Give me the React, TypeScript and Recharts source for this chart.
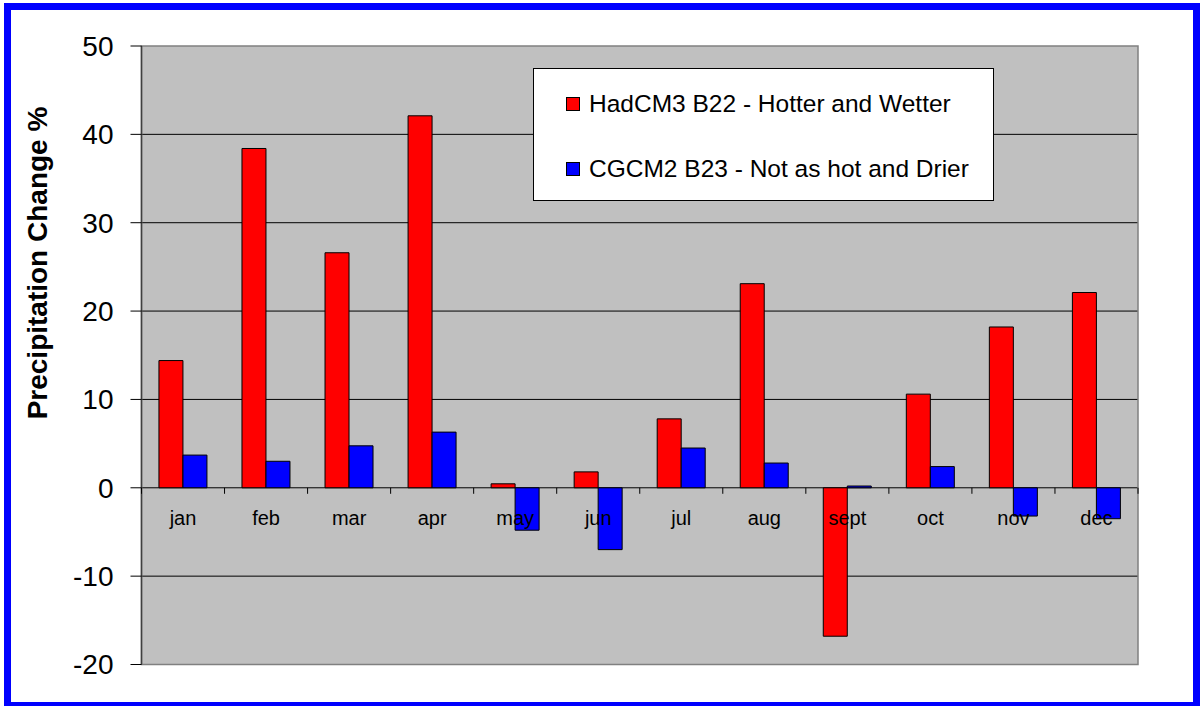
import React from 'react';
import { BarChart, Bar, XAxis, YAxis, CartesianGrid, ReferenceArea, Label } from 'recharts';

const months = ['jan', 'feb', 'mar', 'apr', 'may', 'jun', 'jul', 'aug', 'sept', 'oct', 'nov', 'dec'];
const hadcm3 = [14.4, 38.4, 26.6, 42.1, 0.45, 1.8, 7.8, 23.1, -16.8, 10.6, 18.2, 22.1];
const cgcm2 = [3.7, 3.0, 4.75, 6.3, -4.8, -7.0, 4.5, 2.8, 0.2, 2.4, -3.2, -3.5];
const yTicks = [-20, -10, 0, 10, 20, 30, 40, 50];
const seriesNames = ['HadCM3 B22 - Hotter and Wetter', 'CGCM2 B23 - Not as hot and Drier'];
const seriesColors = ['#ff0000', '#0000ff'];

const data = months.map((m, i) => ({ month: m, had: hadcm3[i], cgc: cgcm2[i] }));

const W = 1203;
const H = 706;
const X_AXIS_H = 30;
const MARGIN = { top: 46, right: 65, bottom: 41.5 - X_AXIS_H, left: 0 };
const Y_MIN = -20;
const Y_MAX = 50;
const PLOT_H = H - MARGIN.top - MARGIN.bottom - X_AXIS_H;
// y pixel of the zero line, where the month labels sit
const ZERO_Y = MARGIN.top + (PLOT_H * Y_MAX) / (Y_MAX - Y_MIN);
const FONT = '"Liberation Sans", Arial, sans-serif';

const MonthTick = (props: any) => {
  const { x, payload, index } = props;
  const half = payload?.offset || 41.5;
  return (
    <g>
      <line x1={x - half} x2={x - half} y1={ZERO_Y} y2={ZERO_Y + 6} stroke="#000" />
      {index === months.length - 1 && (
        <line x1={x + half} x2={x + half} y1={ZERO_Y} y2={ZERO_Y + 6} stroke="#000" />
      )}
      <text
        x={x}
        y={ZERO_Y + 37}
        textAnchor="middle"
        fill="#000"
        style={{ fontFamily: FONT, fontSize: 20 }}
      >
        {payload.value}
      </text>
    </g>
  );
};

const AxisTitle = () => (
  <text
    x={37}
    y={263}
    transform="rotate(-90 37 263)"
    textAnchor="middle"
    dominantBaseline="central"
    fill="#000"
    style={{ fontFamily: FONT, fontSize: 28, fontWeight: 'bold' }}
  >
    Precipitation Change %
  </text>
);

export default function App() {
  return (
    <div style={{ position: 'absolute', left: 0, top: 0, width: W, height: H, background: '#fff', overflow: 'hidden' }}>
      <BarChart width={W} height={H} data={data} margin={MARGIN} barGap={0} barCategoryGap="21%">
        <CartesianGrid
          vertical={false}
          horizontalValues={[-10, 0, 10, 20, 30, 40]}
          stroke="#000"
          fill="#c0c0c0"
          fillOpacity={1}
        />
        <ReferenceArea y1={Y_MIN} y2={Y_MAX} fill="none" stroke="#808080" strokeWidth={1.5} />
        <YAxis
          type="number"
          domain={[Y_MIN, Y_MAX]}
          ticks={yTicks}
          width={141.5}
          tickSize={11}
          tickMargin={17}
          axisLine={{ stroke: '#404040', strokeWidth: 1.5 }}
          tickLine={{ stroke: '#000' }}
          tick={{ fontSize: 28, fontFamily: FONT, fill: '#000' }}
        >
          <Label content={<AxisTitle />} />
        </YAxis>
        <Bar dataKey="had" name={seriesNames[0]} fill={seriesColors[0]} stroke="#000" strokeWidth={1} isAnimationActive={false} />
        <Bar dataKey="cgc" name={seriesNames[1]} fill={seriesColors[1]} stroke="#000" strokeWidth={1} isAnimationActive={false} />
        <XAxis
          dataKey="month"
          height={X_AXIS_H}
          axisLine={false}
          tickLine={false}
          interval={0}
          tick={(p: any) => <MonthTick {...p} />}
        />
      </BarChart>

      {/* legend box */}
      <div
        style={{
          position: 'absolute',
          left: 533,
          top: 68,
          width: 461,
          height: 133,
          boxSizing: 'border-box',
          border: '1px solid #000',
          background: '#fff',
          fontFamily: FONT,
          fontSize: 24.5,
          color: '#000',
        }}
      >
        {seriesNames.map((name, i) => (
          <div
            key={name}
            style={{ position: 'absolute', left: 32, top: i === 0 ? 34.7 : 100.3, transform: 'translateY(-50%)', display: 'flex', alignItems: 'center', whiteSpace: 'nowrap' }}
          >
            <span style={{ display: 'inline-block', width: 14, height: 14, boxSizing: 'border-box', background: seriesColors[i], border: '1px solid #000', marginRight: 9 }} />
            <span>{name}</span>
          </div>
        ))}
      </div>

      {/* outer frame */}
      <div
        style={{
          position: 'absolute',
          left: 4,
          top: 3,
          width: 1196,
          height: 706,
          boxSizing: 'border-box',
          border: '7px solid #0000ff',
          pointerEvents: 'none',
        }}
      />
    </div>
  );
}
